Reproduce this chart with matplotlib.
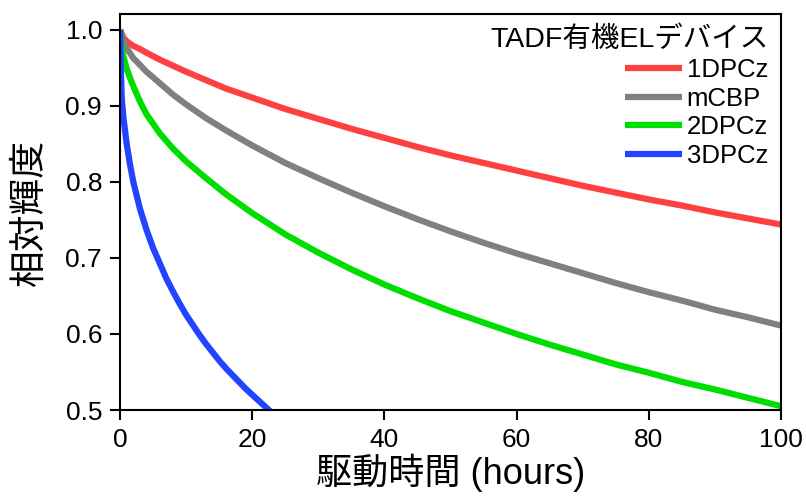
import matplotlib
matplotlib.use("Agg")
import matplotlib.pyplot as plt

# values
hours_1dpcz = [0, 0.5, 1, 2, 3, 4, 6, 8, 10, 13, 16, 20, 25, 30, 35, 40, 45, 50,
               55, 60, 65, 70, 75, 80, 85, 90, 95, 100]
lum_1dpcz = [1.0, 0.990, 0.985, 0.979, 0.975, 0.970, 0.961, 0.953, 0.945, 0.934,
             0.923, 0.911, 0.896, 0.883, 0.870, 0.858, 0.846, 0.835, 0.825, 0.815,
             0.805, 0.795, 0.786, 0.777, 0.769, 0.760, 0.752, 0.744]

hours_mcbp = [0, 0.5, 1, 2, 3, 4, 6, 8, 10, 13, 16, 20, 25, 30, 35, 40, 45, 50,
              55, 60, 65, 70, 75, 80, 85, 90, 95, 100]
lum_mcbp = [1.0, 0.984, 0.976, 0.963, 0.954, 0.945, 0.930, 0.915, 0.902, 0.884,
            0.868, 0.848, 0.825, 0.805, 0.786, 0.768, 0.751, 0.735, 0.720, 0.706,
            0.693, 0.680, 0.667, 0.655, 0.644, 0.632, 0.622, 0.611]

hours_2dpcz = [0, 0.25, 0.5, 1, 1.5, 2, 3, 4, 6, 8, 10, 13, 16, 20, 25, 30, 35,
               40, 45, 50, 55, 60, 65, 70, 75, 80, 85, 90, 95, 100]
lum_2dpcz = [1.0, 0.976, 0.965, 0.949, 0.937, 0.926, 0.906, 0.889, 0.864, 0.844,
             0.827, 0.805, 0.784, 0.759, 0.731, 0.707, 0.685, 0.665, 0.647, 0.630,
             0.615, 0.600, 0.586, 0.573, 0.560, 0.549, 0.537, 0.527, 0.516, 0.505]

hours_3dpcz = [0, 0.1, 0.25, 0.5, 1, 1.5, 2, 3, 4, 5, 6, 7, 8, 9, 10, 11, 12, 13,
               14, 15, 16, 17, 18, 19, 20, 21, 22, 23]
lum_3dpcz = [1.0, 0.950, 0.910, 0.885, 0.850, 0.823, 0.800, 0.765, 0.737, 0.713,
             0.693, 0.673, 0.656, 0.640, 0.625, 0.612, 0.599, 0.587, 0.576, 0.565,
             0.555, 0.546, 0.537, 0.528, 0.520, 0.512, 0.504, 0.496]

x_ticks = [0, 20, 40, 60, 80, 100]
y_ticks = [0.5, 0.6, 0.7, 0.8, 0.9, 1.0]

fonts = ["Liberation Sans", "Noto Sans CJK JP", "DejaVu Sans"]
plt.rcParams["font.family"] = fonts

fig = plt.figure(figsize=(8.06, 5), dpi=100)
ax = fig.add_axes([0.149, 0.18, 0.820, 0.792])

lw = 4.5
style = dict(lw=lw, solid_capstyle="butt", solid_joinstyle="round")
ax.plot(hours_1dpcz, lum_1dpcz, color="#ff4040", label="1DPCz", **style)
ax.plot(hours_mcbp, lum_mcbp, color="#808080", label="mCBP", **style)
ax.plot(hours_2dpcz, lum_2dpcz, color="#00dd00", label="2DPCz", **style)
ax.plot(hours_3dpcz, lum_3dpcz, color="#2244ff", label="3DPCz", **style)

ax.set_xlim(0, 100)
ax.set_ylim(0.5, 1.021)
ax.set_xticks(x_ticks)
ax.set_yticks(y_ticks)
ax.set_xticklabels([str(t) for t in x_ticks])
ax.set_yticklabels(["%.1f" % t for t in y_ticks])

for s in ax.spines.values():
    s.set_linewidth(1.5)
ax.tick_params(direction="out", length=7, width=1.5, labelsize=19, pad=6)

ax.set_xlabel("駆動時間 (hours)", fontsize=26, labelpad=1)
ax.set_ylabel("相対輝度", fontsize=26.5, labelpad=13)

leg = ax.legend(title="TADF有機ELデバイス", loc="upper right", frameon=False,
                fontsize=18.5, title_fontsize=20.5, alignment="right",
                handlelength=2.2, handletextpad=0.2, labelspacing=0.18,
                borderaxespad=0.3, borderpad=0.2)

fig.savefig("out.png", dpi=100)
